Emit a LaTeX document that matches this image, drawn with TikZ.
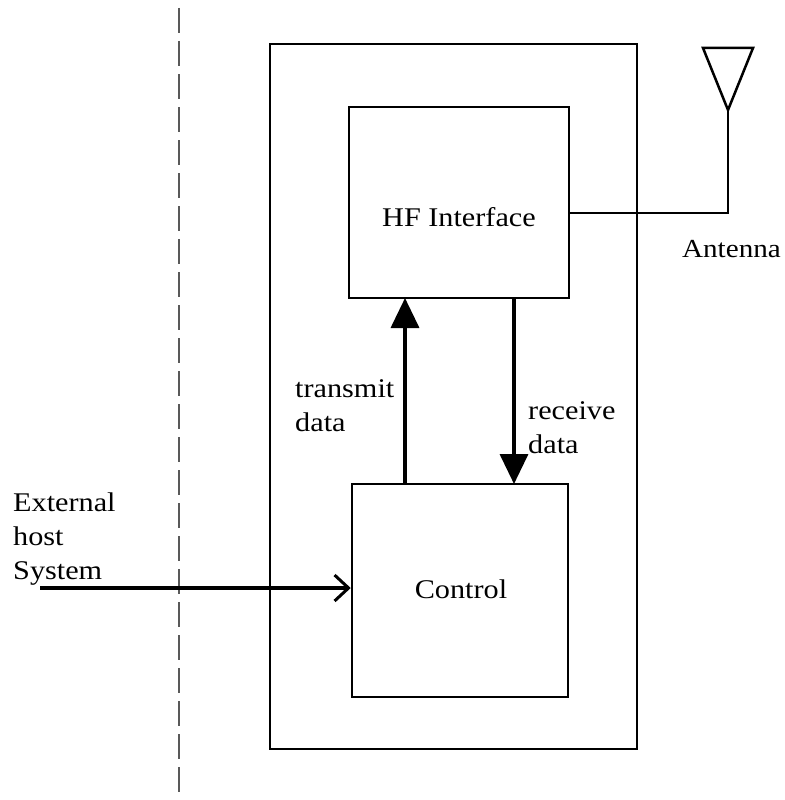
\documentclass[tikz,border=0pt]{standalone}
\usepackage{fontspec}
\setmainfont{Liberation Serif}[FakeStretch=1.12]
\usetikzlibrary{arrows.meta}
\begin{document}
\begin{tikzpicture}[x=1pt,y=-1pt,
  box/.style={draw, line width=2.5pt, inner sep=0pt},
  lbl/.style={font=\fontsize{27}{34}\selectfont, inner sep=0pt, align=left},
  flow/.style={line width=3.5pt, -{Triangle[length=30pt,width=28pt]}}]
\useasboundingbox (0,0) rectangle (784,800);
\draw[line width=1.2pt, gray!70!black, dash pattern=on 25pt off 8pt] (179,8) -- (179,795);
\node[box, minimum width=367pt, minimum height=705pt] (outer) at (453.5,396.5) {};
\node[box, minimum width=220pt, minimum height=191pt] (hf) at (459,202.5) {};
\node[lbl, anchor=base] at (459,226) {HF Interface};
\node[box, minimum width=216pt, minimum height=213pt] (ctl) at (460,590.5) {};
\node[lbl, anchor=base] at (461,598) {Control};
\coordinate (tx) at (405,484);
\coordinate (txe) at (405,298);
\draw[flow] (tx) -- (txe);
\coordinate (rx) at (514,298);
\coordinate (rxe) at (514,484);
\draw[flow] (rx) -- (rxe);
\node[lbl, anchor=base west] (txl) at (295,431) {transmit\\data};
\node[lbl, anchor=base west] (rxl) at (528,453) {receive\\data};
\coordinate (ant) at (728,110);
\draw[line width=2.5pt] (hf.east |- 0,213) -| (ant);
\draw[line width=2.5pt, line join=miter] (ant) -- (703,48) -- (753,48) -- cycle;
\node[lbl, anchor=base east, font=\fontsize{26}{34}\selectfont] (antl) at (781,257) {Antenna};
\node[lbl, anchor=base west] (ext) at (13,579) {External\\host\\System};
\coordinate (src) at (40,588);
\draw[line width=4pt, -{Straight Barb[length=14pt,width=26pt,line width=3pt]}] (src) -- (ctl.west |- src);
\end{tikzpicture}
\end{document}
